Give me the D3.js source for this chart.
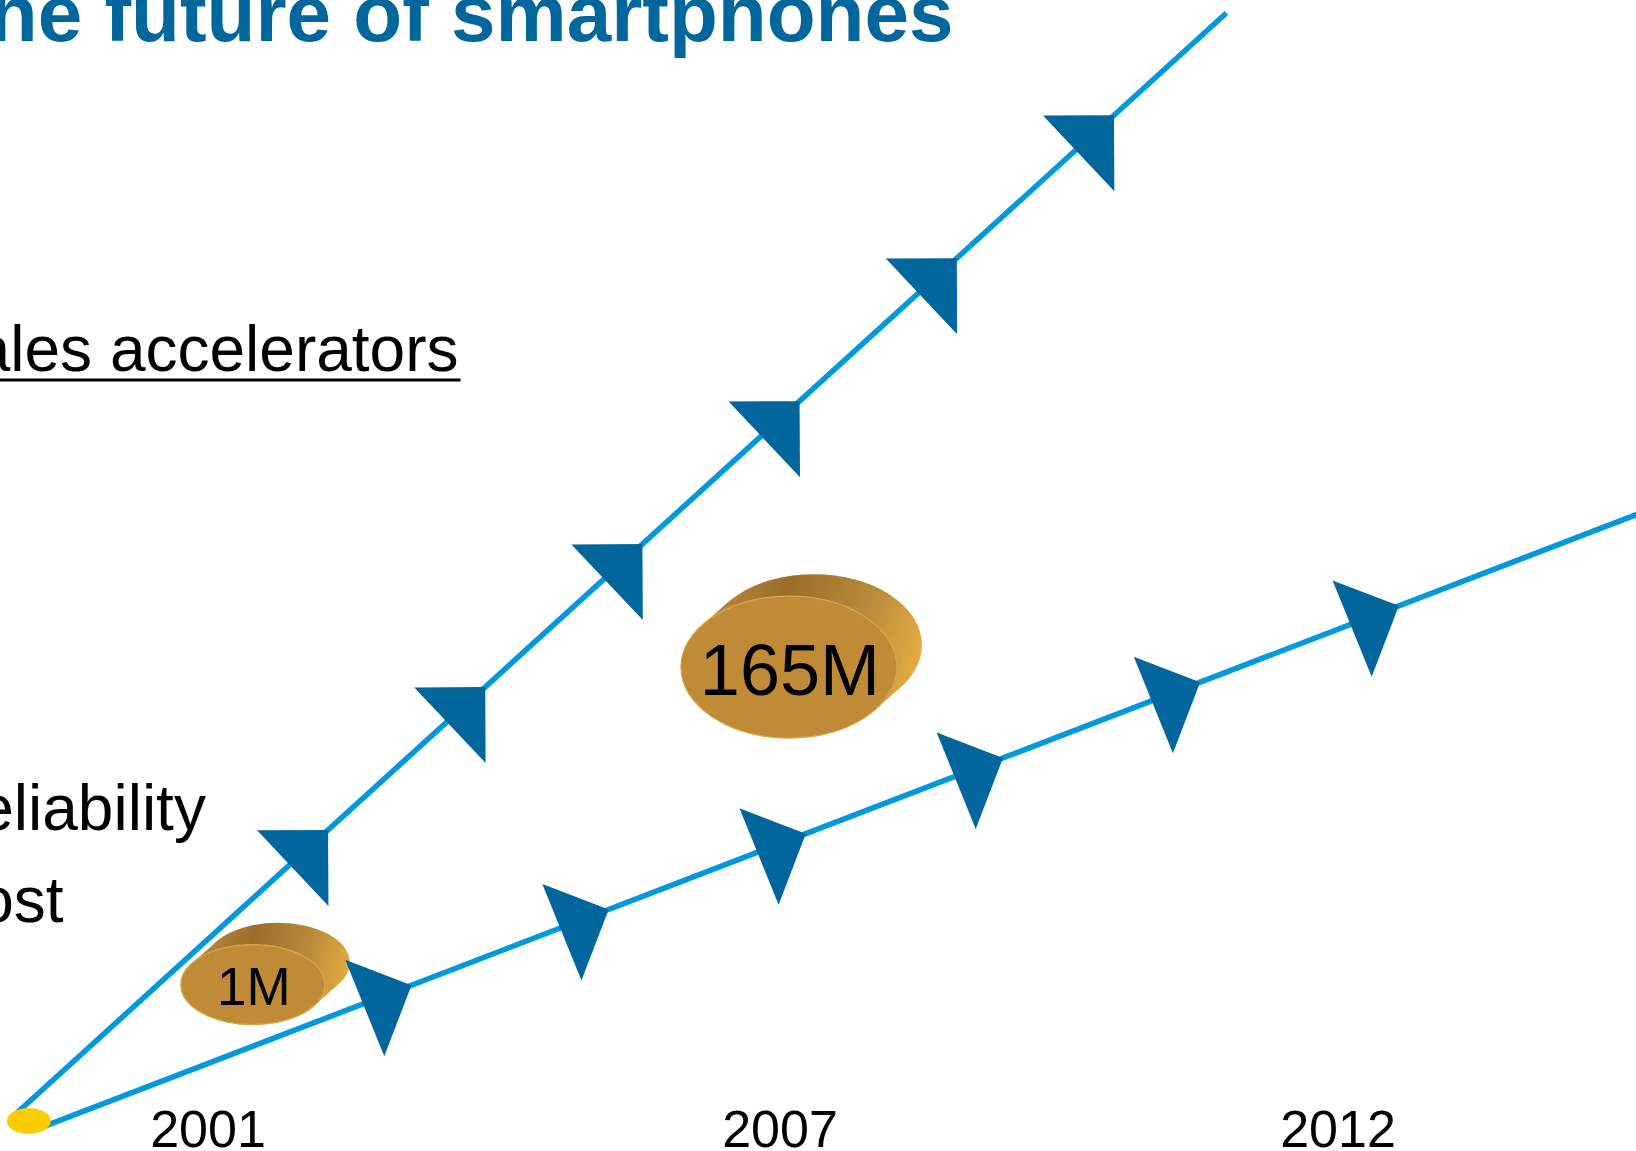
<!DOCTYPE html>
<html>
<head>
<meta charset="utf-8">
<script src="https://cdn.jsdelivr.net/npm/d3@7"></script>
<style>
  body { margin: 0; background: #fff; overflow: hidden; }
  svg { display: block; }
  text { font-family: "Liberation Sans", Arial, sans-serif; }
</style>
</head>
<body>
<div id="chart"></div>
<script>
// values
const tickYears = [2001, 2007, 2012];

// two growth lines: [year, level]
const fastLine = [[1999.0, 2.0], [2011.0, 100]];
const slowLine = [[1999.2, 0.5], [2014.7, 55.4]];
const startPoint = [1999.12, 1.25];

// arrowheads, as fraction of the way along each line
const fastMarks = [0.257, 0.387, 0.517, 0.647, 0.777, 0.907];
const slowMarks = [0.234, 0.357, 0.480, 0.603, 0.726, 0.850];

// volume bubbles
const bubbleLabels = ["1M", "165M"];
const bubbleValues = [1, 165];
const bubbleYears = [2001.47, 2007.08];
const bubbleLevels = [13.4, 41.7];

const titleText = "The future of smartphones";
const bulletTexts = ["Sales accelerators", "Reliability", "Cost"];

const width = 1636, height = 1151;

const svg = d3.select("#chart").append("svg")
    .attr("width", width)
    .attr("height", height);

svg.append("rect").attr("width", width).attr("height", height).attr("fill", "#fff");

// year axis is not evenly spaced on the slide
const xScale = d3.scaleLinear()
    .domain(tickYears)
    .range([208, 780, 1338]);

const yScale = d3.scaleLinear()
    .domain([0, 100])
    .range([1135, 13]);

const rxScale = d3.scaleLog().domain([1, 165]).range([72, 108]);
const ryScale = d3.scaleLog().domain([1, 165]).range([40, 71]);
const fontScale = d3.scaleLog().domain([1, 165]).range([53, 72]);

const lineColor = "#0099dd";
const markColor = "#00669c";

// title
svg.append("text")
    .attr("x", -60)
    .attr("y", 41)
    .attr("font-size", 80)
    .attr("font-weight", "bold")
    .attr("fill", "#00669c")
    .text(titleText);

// bullet texts (clipped on the left like the slide)
const bulletY = [371, 830, 922];
bulletTexts.forEach(function(t, i) {
    let txt = svg.append("text")
        .attr("x", -68)
        .attr("y", bulletY[i])
        .attr("font-size", 64)
        .attr("fill", "#000")
        .text(t);
    if (i === 0) {
        let len = txt.node().getComputedTextLength();
        svg.append("line")
            .attr("x1", -68).attr("x2", -68 + len + 2)
            .attr("y1", bulletY[i] + 9).attr("y2", bulletY[i] + 9)
            .attr("stroke", "#000")
            .attr("stroke-width", 3);
    }
});

// lines
const lineGen = d3.line()
    .x(d => xScale(d[0]))
    .y(d => yScale(d[1]));

const series = [
    { pts: fastLine, marks: fastMarks },
    { pts: slowLine, marks: slowMarks }
];

const lineLayer = svg.append("g");
series.forEach(function(s) {
    lineLayer.append("path")
        .attr("d", lineGen(s.pts))
        .attr("fill", "none")
        .attr("stroke", lineColor)
        .attr("stroke-width", 5.5);
});

// bubbles (tilted cylinders)
const defs = svg.append("defs");
const depth = [25, -22];
const bubbleLayer = svg.append("g");

bubbleLabels.forEach(function(label, i) {
    let cx = xScale(bubbleYears[i]), cy = yScale(bubbleLevels[i]);
    let rx = rxScale(bubbleValues[i]), ry = ryScale(bubbleValues[i]);
    let dx = depth[0], dy = depth[1];

    let grad = defs.append("linearGradient")
        .attr("id", "side" + i)
        .attr("gradientUnits", "userSpaceOnUse")
        .attr("x1", cx - rx).attr("y1", cy - ry + dy)
        .attr("x2", cx + rx + dx).attr("y2", cy + dy);
    grad.append("stop").attr("offset", 0).attr("stop-color", "#c99843");
    grad.append("stop").attr("offset", 0.42).attr("stop-color", "#9a6d2a");
    grad.append("stop").attr("offset", 0.75).attr("stop-color", "#b98a3a");
    grad.append("stop").attr("offset", 1).attr("stop-color", "#e2aa40");

    // tangent points where the side meets the ellipse
    let th = Math.atan(-(ry * dx) / (rx * dy));
    let p1 = [cx + rx * Math.cos(th), cy + ry * Math.sin(th)];
    let p2 = [cx - rx * Math.cos(th), cy - ry * Math.sin(th)];

    let g = bubbleLayer.append("g");
    g.append("ellipse")
        .attr("cx", cx + dx).attr("cy", cy + dy)
        .attr("rx", rx).attr("ry", ry)
        .attr("fill", "url(#side" + i + ")");
    g.append("path")
        .attr("d", d3.line()([p1, [p1[0] + dx, p1[1] + dy], [p2[0] + dx, p2[1] + dy], p2]) + "Z")
        .attr("fill", "url(#side" + i + ")");
    g.append("ellipse")
        .attr("cx", cx).attr("cy", cy)
        .attr("rx", rx).attr("ry", ry)
        .attr("fill", "#c08b37")
        .attr("stroke", "#d6a64e")
        .attr("stroke-width", 1.2);
    let fs = fontScale(bubbleValues[i]);
    g.append("text")
        .attr("x", cx + 1)
        .attr("y", cy + fs * 0.39)
        .attr("text-anchor", "middle")
        .attr("font-size", fs)
        .attr("fill", "#000")
        .text(label);
});

// arrowheads along the lines
const markLayer = svg.append("g");
series.forEach(function(s) {
    let a = [xScale(s.pts[0][0]), yScale(s.pts[0][1])];
    let b = [xScale(s.pts[1][0]), yScale(s.pts[1][1])];
    let ang = Math.atan2(b[1] - a[1], b[0] - a[0]) * 180 / Math.PI - 3;
    let r = Math.PI / 180;
    let leg1 = [71 * Math.cos(-135 * r), 71 * Math.sin(-135 * r)];
    let leg2 = [76 * Math.cos(135 * r), 76 * Math.sin(135 * r)];
    markLayer.selectAll(null)
        .data(s.marks)
        .enter()
        .append("path")
            .attr("d", d3.line()([[0, 0], leg1, leg2]) + "Z")
            .attr("fill", markColor)
            .attr("transform", function(t) {
                let x = a[0] + t * (b[0] - a[0]);
                let y = a[1] + t * (b[1] - a[1]);
                return `translate(${x},${y}) rotate(${ang})`;
            });
});

// start dot
svg.append("ellipse")
    .attr("cx", xScale(startPoint[0]))
    .attr("cy", yScale(startPoint[1]))
    .attr("rx", 22)
    .attr("ry", 13)
    .attr("fill", "#ffcc00");

// year labels
svg.append("g").selectAll("text")
    .data(tickYears)
    .enter()
    .append("text")
        .attr("x", d => xScale(d))
        .attr("y", 1147)
        .attr("text-anchor", "middle")
        .attr("font-size", 52)
        .attr("fill", "#000")
        .text(d => d);
</script>
</body>
</html>
